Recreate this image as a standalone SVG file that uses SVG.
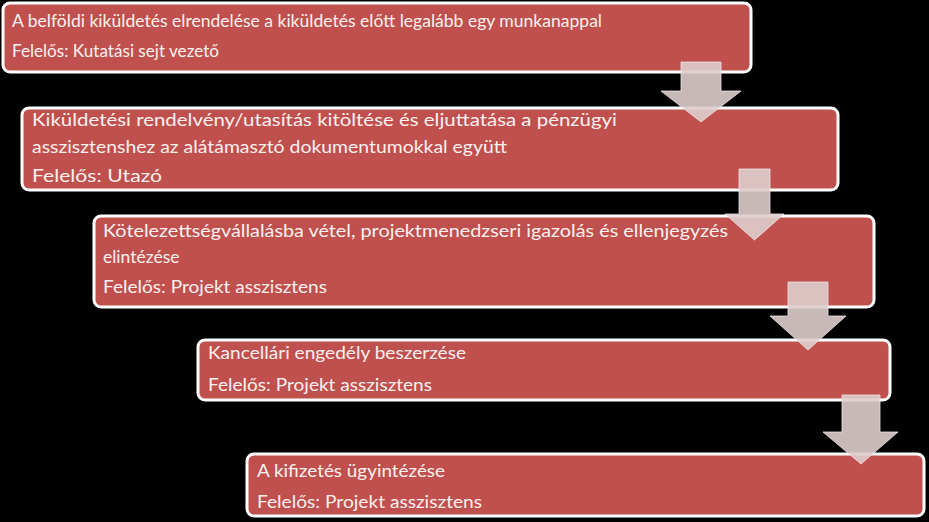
<svg xmlns="http://www.w3.org/2000/svg" width="929" height="522" viewBox="0 0 929 522">
<style>
.box{fill:#C0504D;stroke:#FFFFFF;stroke-width:3}
.t{font-family:Lato,"Open Sans","Liberation Sans",sans-serif;font-size:17.5px;fill:#FBF0F0}
.s{font-size:16.5px}
.arr{fill:#DECDCD;fill-opacity:0.9;stroke:#EEE2E2;stroke-width:1;stroke-opacity:0.8}
</style>
<rect width="929" height="522" fill="#000000"/>
<g id="node1">
<rect class="box" x="3" y="3" width="748" height="69" rx="7"/>
<text class="t s" x="12" y="27" textLength="590" lengthAdjust="spacingAndGlyphs">A belföldi kiküldetés elrendelése a kiküldetés előtt legalább egy munkanappal</text>
<text class="t s" x="12" y="57" textLength="207" lengthAdjust="spacingAndGlyphs">Felelős: Kutatási sejt vezető</text>
</g>
<g id="node2">
<rect class="box" x="22" y="108" width="816" height="82" rx="7"/>
<text class="t" x="32" y="126" textLength="585" lengthAdjust="spacingAndGlyphs">Kiküldetési rendelvény/utasítás kitöltése és eljuttatása a pénzügyi</text>
<text class="t" x="32" y="153" textLength="475" lengthAdjust="spacingAndGlyphs">asszisztenshez az alátámasztó dokumentumokkal együtt</text>
<text class="t" x="32" y="182" textLength="130" lengthAdjust="spacingAndGlyphs">Felelős: Utazó</text>
</g>
<g id="node3">
<rect class="box" x="94" y="216" width="780" height="91" rx="7"/>
<text class="t" x="103" y="237" textLength="625" lengthAdjust="spacingAndGlyphs">Kötelezettségvállalásba vétel, projektmenedzseri igazolás és ellenjegyzés</text>
<text class="t" x="103" y="263">elintézése</text>
<text class="t" x="103" y="293" textLength="224" lengthAdjust="spacingAndGlyphs">Felelős: Projekt asszisztens</text>
</g>
<g id="node4">
<rect class="box" x="198" y="340" width="692" height="60" rx="7"/>
<text class="t" x="208" y="359" textLength="258" lengthAdjust="spacingAndGlyphs">Kancellári engedély beszerzése</text>
<text class="t" x="208" y="391" textLength="224" lengthAdjust="spacingAndGlyphs">Felelős: Projekt asszisztens</text>
</g>
<g id="node5">
<rect class="box" x="247" y="454" width="677" height="62" rx="7"/>
<text class="t" x="257" y="477" textLength="188" lengthAdjust="spacingAndGlyphs">A kifizetés ügyintézése</text>
<text class="t" x="257" y="508" textLength="225" lengthAdjust="spacingAndGlyphs">Felelős: Projekt asszisztens</text>
</g>
<g id="connectors">
<polygon class="arr" points="681,62 721,62 721,91 741,91 701,122 661,91 681,91"/>
<polygon class="arr" points="739,169 770,169 770,214 784,214 754.5,240 725,214 739,214"/>
<polygon class="arr" points="788,282 828,282 828,316 846,316 808,350 770,316 788,316"/>
<polygon class="arr" points="842,395 880,395 880,432 898,432 861,464 823,432 842,432"/>
</g>
</svg>
